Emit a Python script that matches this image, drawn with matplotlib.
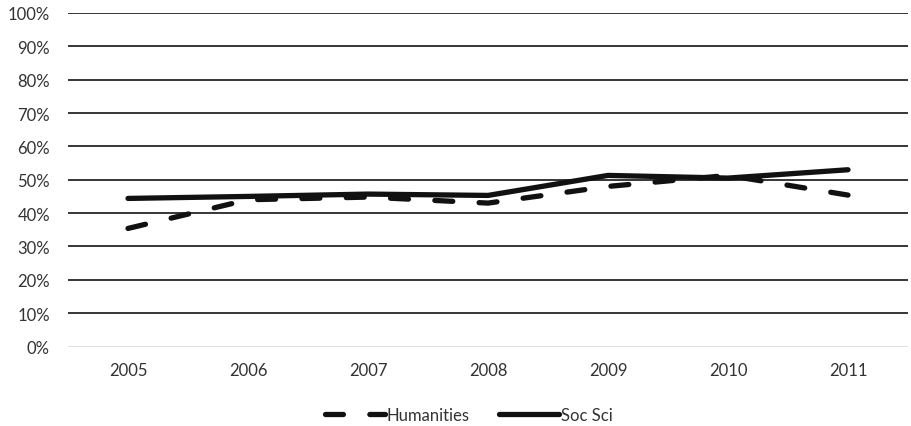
import matplotlib
matplotlib.use("Agg")
import matplotlib.pyplot as plt
from matplotlib.ticker import PercentFormatter

years = ["2005", "2006", "2007", "2008", "2009", "2010", "2011"]
humanities = [35.4, 44.0, 44.8, 43.0, 48.0, 51.3, 45.4]
soc_sci = [44.4, 45.0, 45.7, 45.3, 51.3, 50.5, 53.0]
yticks = [0, 10, 20, 30, 40, 50, 60, 70, 80, 90, 100]

plt.rcParams['font.family'] = ['Lato', 'DejaVu Sans']

fig = plt.figure(figsize=(9.12, 4.27), dpi=100)
ax = fig.add_axes([68/912, 1 - 347.5/427, 840/912, 333.5/427])

x = list(range(len(years)))
for v in yticks[1:]:
    ax.axhline(v, color="black", lw=1.1, zorder=1)
ax.axhline(0, color="#d9d9d9", lw=1.1, zorder=1)

ax.plot(x, humanities, color="#111111", lw=3.8, linestyle=(0, (3.4, 5.0)),
        dash_capstyle="round", solid_capstyle="round", label="Humanities", zorder=3)
ax.plot(x, soc_sci, color="#111111", lw=3.8, solid_capstyle="round",
        label="Soc Sci", zorder=3)

ax.set_xlim(-0.5, len(years) - 0.5)
ax.set_ylim(0, 100)
ax.set_xticks(x)
ax.set_xticklabels(years)
ax.set_yticks(yticks)
ax.yaxis.set_major_formatter(PercentFormatter(decimals=0))
ax.tick_params(axis="both", length=0, labelsize=12, colors="#333333", pad=13)
ax.tick_params(axis="x", pad=11)
for s in ax.spines.values():
    s.set_visible(False)

leg = ax.legend(loc="upper center", bbox_to_anchor=(0.477, -0.135), ncol=2, frameon=False,
                fontsize=12, handlelength=3.6, handletextpad=0.1, columnspacing=1.8)
for t in leg.get_texts():
    t.set_color("#333333")

fig.savefig("out.png", dpi=100)
